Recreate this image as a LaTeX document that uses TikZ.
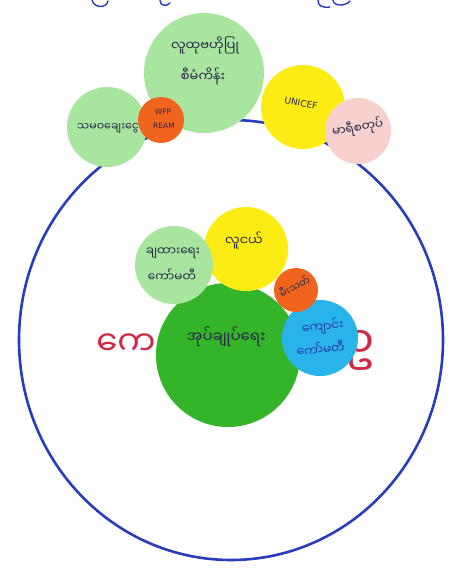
\documentclass[tikz,border=0pt]{standalone}
\usepackage{fontspec}
\newfontfamily\my[Script=Myanmar]{Noto Sans Myanmar UI}
\newfontfamily\lat{DejaVu Sans}
\definecolor{ringblue}{RGB}{40,60,190}
\definecolor{lgreen}{RGB}{168,230,160}
\definecolor{dgreen}{RGB}{52,180,40}
\definecolor{yel}{RGB}{252,236,20}
\definecolor{ora}{RGB}{240,100,30}
\definecolor{pnk}{RGB}{248,208,206}
\definecolor{cyanb}{RGB}{40,180,232}
\definecolor{ink}{RGB}{40,40,70}
\definecolor{redink}{RGB}{210,40,70}
\tikzset{
  disc/.style={fill=#1, draw=none},
  lab/.style={font=\my\fontsize{12}{14}\selectfont, text=ink, align=center, inner sep=0pt, text height=7pt, text depth=2pt},
  latlab/.style={font=\lat\fontsize{9}{11}\selectfont, text=ink, align=center, inner sep=0pt},
  ring/.style={draw=ringblue, line width=2.6pt},
  redtext/.style={font=\my\fontsize{34}{36}\selectfont, text=redink, inner sep=0pt}
}
\begin{document}
\begin{tikzpicture}[x=1pt,y=-1pt]
\useasboundingbox[fill=white] (0,0) rectangle (461,575);
% partial title strokes at top
\draw[ringblue, line width=1.4pt, line cap=round] (92,0) .. controls (94,8) and (106,9) .. (108,1);
\draw[ringblue, line width=1.4pt, line cap=round] (160,0) .. controls (160,6) and (166,7) .. (170,3);
\draw[ringblue, line width=1.4pt, line cap=round] (318,0) .. controls (318,6) and (322,8) .. (330,7);
\draw[ringblue, line width=1.4pt, line cap=round] (333,0) .. controls (333,6) and (345,7) .. (350,1);
% red background text
\node[redtext] (rl) at (126,345) {ကေ};
\node[redtext, font=\my\fontsize{44}{46}\selectfont] (rr) at (360,350) {ဥ};
% big ring
\draw[ring] (231,340) ellipse [x radius=212, y radius=220];
% outer circles
\fill[disc=lgreen] (107,127) circle [radius=40];
\fill[disc=lgreen] (204,73) circle [radius=60];
\fill[disc=ora] (161,120) circle [radius=23];
\fill[disc=yel] (303,107) circle [radius=42];
\fill[disc=pnk] (358,131) circle [radius=33];
\node[lab, font=\my\fontsize{13}{15}\selectfont] (t1) at (205,48) {လူထုဗဟိုပြု};
\node[lab, font=\my\fontsize{13}{15}\selectfont] (t2) at (203,79) {စီမံကိန်း};
\node[lab, font=\my\fontsize{11}{13}\selectfont] (t3) at (108,128) {သမဝချေးငွေ};
\node[latlab, font=\lat\fontsize{7.5}{9}\selectfont] (t4) at (163,112) {WFP};
\node[latlab, font=\lat\fontsize{7.5}{9}\selectfont] (t5) at (164,126) {REAM};
\node[latlab, rotate=-10] (t6) at (301,103) {UNICEF};
\node[lab, rotate=10] (t7) at (358,130) {မာရီစတုပ်};
% inner circles
\fill[disc=dgreen] (228,355) circle [radius=72];
\fill[disc=yel] (246,249) circle [radius=42];
\fill[disc=lgreen] (174,265) circle [radius=39];
\fill[disc=cyanb] (320,338) circle [radius=38];
\fill[disc=ora] (296,290) circle [radius=22];
\node[lab] (i1) at (173,253) {ချထားရေး};
\node[lab] (i2) at (172,279) {ကော်မတီ};
\node[lab, font=\my\fontsize{13}{15}\selectfont] (i3) at (244,243) {လူငယ်};
\node[lab, rotate=28, font=\my\fontsize{10}{12}\selectfont, text height=5pt, text depth=1pt] (i4) at (296,289) {မီးသတ်};
\node[lab, font=\my\fontsize{15}{17}\selectfont] (i5) at (226,340) {အုပ်ချုပ်ရေး};
\node[lab, rotate=6, text=ringblue!80!ink] (i6) at (323,329) {ကျောင်း};
\node[lab, rotate=6, text=ringblue!80!ink] (i7) at (321,352) {ကော်မတီ};
\end{tikzpicture}
\end{document}
